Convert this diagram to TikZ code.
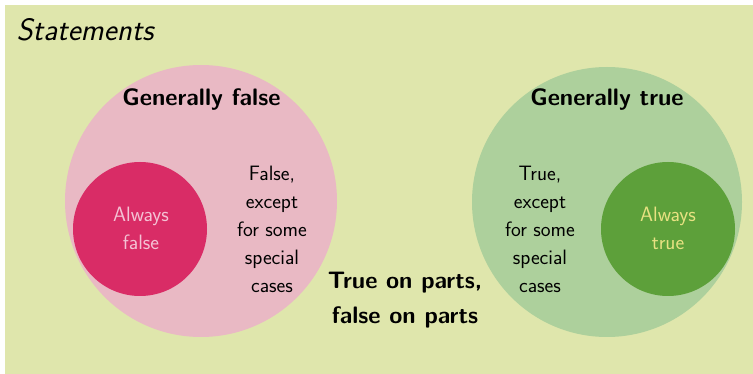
\documentclass[tikz,border=0pt]{standalone}
\usepackage{fontspec}
\begin{document}
\begin{tikzpicture}[x=1pt,y=-1pt,
  every node/.style={font=\sffamily},
  bigcirc/.style={circle,inner sep=0pt,minimum size=#1},
  normaltext/.style={align=center,font=\sffamily\fontsize{20.8}{28}\selectfont},
  boldtext/.style={align=center,font=\sffamily\bfseries\fontsize{23.8}{35}\selectfont}]
\definecolor{bgc}{RGB}{223,230,172}
\definecolor{pinkbig}{RGB}{233,185,196}
\definecolor{pinkdark}{RGB}{217,44,102}
\definecolor{greenbig}{RGB}{173,208,156}
\definecolor{greendark}{RGB}{93,160,58}
\definecolor{pinktext}{RGB}{244,194,212}
\definecolor{yellowtext}{RGB}{232,226,130}
\useasboundingbox (0,0) rectangle (753,374);
\fill[bgc] (5,5) rectangle (753,374);
\node[bigcirc=272pt,fill=pinkbig] (gf) at (201,201) {};
\node[bigcirc=134pt,fill=pinkdark] (af) at (140,229) {};
\node[bigcirc=270pt,fill=greenbig] (gt) at (607,202) {};
\node[bigcirc=134pt,fill=greendark] (at) at (668,229) {};
\node[anchor=west,font=\sffamily\itshape\fontsize{31}{36}\selectfont] (st) at (13,30) {Statements};
\node[boldtext] (gft) at (201.5,100) {Generally false};
\node[boldtext] (gtt) at (607,100) {Generally true};
\node[normaltext,text=pinktext] (aft) at (141,228) {Always\\false};
\node[normaltext,text=yellowtext] (att) at (668,228) {Always\\true};
\node[normaltext] (fe) at (272,229) {False,\\except\\for some\\special\\cases};
\node[normaltext] (te) at (540,229) {True,\\except\\for some\\special\\cases};
\node[boldtext] (tp) at (405,300) {True on parts,\\false on parts};
\end{tikzpicture}
\end{document}
